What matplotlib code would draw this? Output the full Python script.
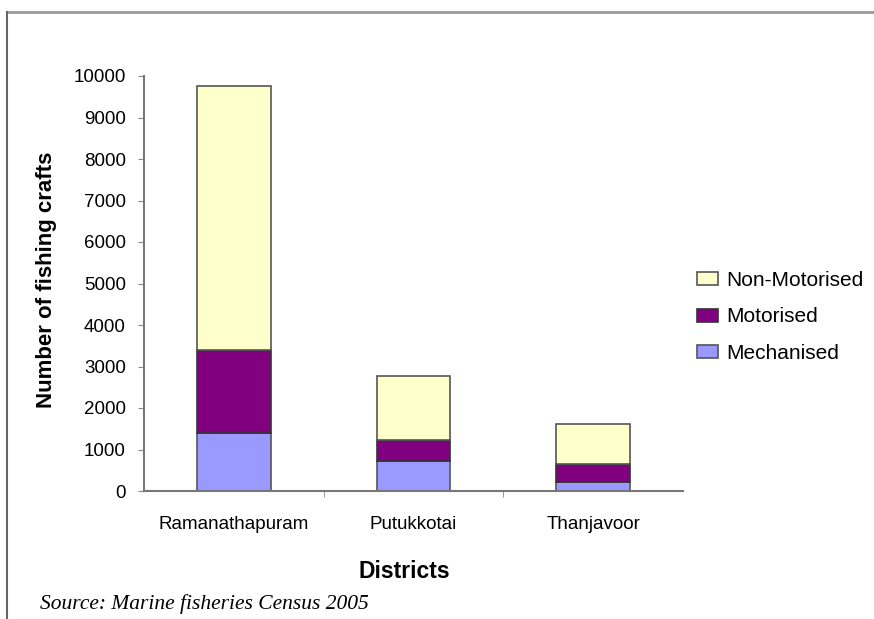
import numpy as np
import matplotlib.pyplot as plt
from matplotlib.lines import Line2D

districts = ['Ramanathapuram', 'Putukkotai', 'Thanjavoor']
mechanised = [1400, 720, 220]
motorised = [2000, 510, 430]
non_motorised = [6350, 1540, 960]

plt.rcParams['font.family'] = ['Liberation Sans', 'DejaVu Sans']

fig = plt.figure(figsize=(8.74, 6.19), dpi=100)
ax = fig.add_axes([144/874, 1-491/619, (683-144)/874, (491-76)/619])

x = np.arange(len(districts))
w = 0.41
bottom2 = np.array(mechanised) + np.array(motorised)
b1 = ax.bar(x, mechanised, w, color='#9999ff', edgecolor='#555555', linewidth=1.2, label='Mechanised')
b2 = ax.bar(x, motorised, w, bottom=mechanised, color='#800080', edgecolor='#333333', linewidth=1.2, label='Motorised')
b3 = ax.bar(x, non_motorised, w, bottom=bottom2, color='#ffffcc', edgecolor='#555555', linewidth=1.2, label='Non-Motorised')

ax.set_xlim(-0.5, 2.5)
ax.set_ylim(0, 10000)
ax.set_yticks(range(0, 10001, 1000))
ax.set_xticks(x)
ax.set_xticklabels(districts, fontsize=13.5)
ax.tick_params(axis='x', length=0, pad=18)
ax.set_xticks([0.5, 1.5], minor=True)
ax.tick_params(axis='x', which='minor', length=4, color='#888888')
ax.tick_params(axis='y', labelsize=13.5, length=4, color='#888888', pad=9)

for s in ['top', 'right']:
    ax.spines[s].set_visible(False)
for s in ['left', 'bottom']:
    ax.spines[s].set_color('#777777')
    ax.spines[s].set_linewidth(1.5)

fig.text(47/874, 1-280/619, 'Number of fishing crafts', fontsize=16, fontweight='bold',
         rotation=90, ha='center', va='center')
fig.text(404/874, 1-572/619, 'Districts', fontsize=16.5, fontweight='bold', ha='center', va='center')
fig.text(40/874, 1-604/619, 'Source: Marine fisheries Census 2005', fontsize=15.5, style='italic',
         family=['Liberation Serif', 'DejaVu Serif'], ha='left', va='center')

leg = fig.legend([b3, b2, b1], ['Non-Motorised', 'Motorised', 'Mechanised'],
                 loc='center left', bbox_to_anchor=(697/874, 1-317/619), frameon=False,
                 fontsize=15, handlelength=1.0, handleheight=0.6, handletextpad=0.4,
                 labelspacing=0.85, borderpad=0, borderaxespad=0)

# page frame edges (top and left)
fig.add_artist(Line2D([7/874, 1], [1-12/619, 1-12/619], color='#999999', lw=2, transform=fig.transFigure))
fig.add_artist(Line2D([7/874, 7/874], [0, 1-12/619], color='#666666', lw=1.5, transform=fig.transFigure))

fig.savefig('out.png', dpi=100)
